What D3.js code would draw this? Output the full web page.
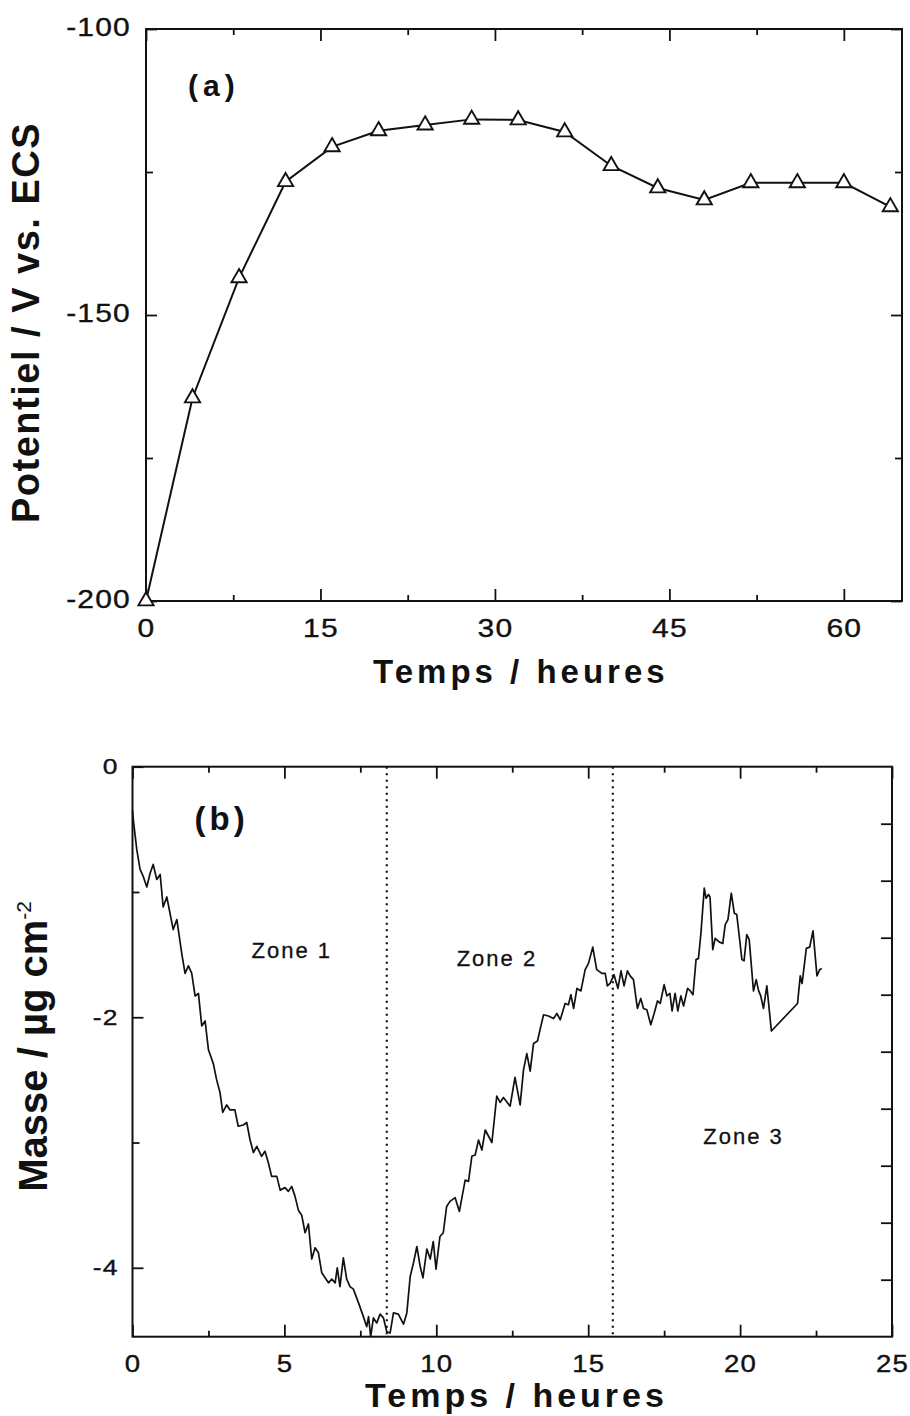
<!DOCTYPE html>
<html><head><meta charset="utf-8">
<script src="https://cdn.jsdelivr.net/npm/d3@7"></script>
<style>body{margin:0;background:#fff}</style>
</head><body><svg id="c" width="910" height="1416"></svg>
<script>
// ---------- Panel (a) : potential vs time ----------
const potentialTime = [0,4,8,12,16,20,24,28,32,36,40,44,48,52,56,60,64];
const potentialValues = [-200,-164.5,-143.5,-126.7,-120.6,-117.8,-116.8,-115.8,-115.9,-118.0,-123.9,-127.8,-129.9,-126.9,-126.9,-126.9,-131.1];
const potentialXTicks = [0,15,30,45,60];
const potentialXMinor = [7.5,22.5,37.5,52.5];
const potentialYTicks = [-200,-150,-100];
const potentialYMinor = [-175,-125];

// ---------- Panel (b) : mass vs time ----------
const massTime = [0.00,0.03,0.14,0.25,0.36,0.47,0.58,0.68,0.80,0.91,1.01,1.13,1.34,1.46,1.62,1.73,1.84,1.95,2.06,2.17,2.28,2.39,2.50,2.66,2.77,2.88,2.97,3.10,3.21,3.37,3.48,3.65,3.76,3.87,3.98,4.09,4.25,4.36,4.47,4.58,4.75,4.86,5.02,5.13,5.24,5.35,5.46,5.57,5.68,5.79,5.90,6.01,6.12,6.23,6.34,6.45,6.56,6.67,6.74,6.83,6.94,7.05,7.16,7.27,7.44,7.60,7.71,7.77,7.84,7.93,8.04,8.15,8.26,8.37,8.48,8.59,8.75,8.92,9.03,9.14,9.25,9.36,9.47,9.56,9.69,9.80,9.90,9.99,10.12,10.23,10.34,10.45,10.62,10.76,10.95,11.06,11.17,11.28,11.39,11.50,11.61,11.72,11.83,11.99,12.10,12.21,12.43,12.59,12.76,12.87,12.98,13.09,13.20,13.33,13.53,13.69,13.86,13.97,14.08,14.24,14.35,14.43,14.52,14.63,14.76,14.90,15.01,15.15,15.28,15.45,15.56,15.63,15.72,15.85,15.98,16.08,16.18,16.29,16.38,16.49,16.62,16.73,16.82,16.93,17.06,17.17,17.28,17.37,17.50,17.59,17.69,17.76,17.86,17.95,18.05,18.14,18.27,18.36,18.45,18.55,18.63,18.71,18.82,18.88,18.96,19.01,19.10,19.18,19.32,19.43,19.51,19.60,19.71,19.81,19.89,20.06,20.13,20.22,20.30,20.44,20.53,20.61,20.68,20.77,20.88,21.03,21.89,21.98,22.04,22.18,22.29,22.40,22.53,22.62,22.69];
const massValues = [-0.35,-0.43,-0.66,-0.82,-0.88,-0.96,-0.85,-0.78,-0.90,-0.86,-1.12,-1.04,-1.30,-1.22,-1.49,-1.65,-1.59,-1.65,-1.83,-1.81,-2.07,-2.03,-2.26,-2.37,-2.50,-2.60,-2.76,-2.70,-2.74,-2.74,-2.87,-2.86,-2.84,-2.98,-3.08,-3.03,-3.11,-3.07,-3.16,-3.27,-3.27,-3.38,-3.36,-3.39,-3.35,-3.43,-3.54,-3.58,-3.72,-3.65,-3.93,-3.84,-3.88,-4.04,-4.08,-4.12,-4.09,-4.12,-4.00,-4.15,-3.92,-4.09,-4.15,-4.17,-4.28,-4.39,-4.47,-4.39,-4.55,-4.40,-4.44,-4.37,-4.40,-4.51,-4.52,-4.36,-4.37,-4.45,-4.36,-4.07,-3.96,-3.83,-3.99,-4.08,-3.85,-3.93,-3.79,-4.01,-3.75,-3.72,-3.51,-3.47,-3.44,-3.55,-3.30,-3.31,-3.11,-3.10,-2.98,-3.06,-2.90,-2.95,-3.00,-2.63,-2.68,-2.64,-2.71,-2.48,-2.70,-2.42,-2.29,-2.43,-2.21,-2.19,-1.98,-1.99,-2.01,-1.97,-2.02,-1.89,-1.90,-1.82,-1.93,-1.77,-1.79,-1.62,-1.57,-1.44,-1.62,-1.65,-1.65,-1.75,-1.73,-1.66,-1.77,-1.63,-1.75,-1.63,-1.67,-1.70,-1.93,-1.85,-1.93,-1.94,-2.06,-1.97,-1.87,-1.89,-1.74,-1.83,-1.81,-1.95,-1.81,-1.95,-1.83,-1.91,-1.77,-1.79,-1.82,-1.54,-1.53,-1.33,-0.97,-1.05,-1.02,-1.04,-1.46,-1.37,-1.40,-1.41,-1.26,-1.22,-1.01,-1.17,-1.18,-1.54,-1.55,-1.34,-1.38,-1.79,-1.70,-1.79,-1.83,-1.93,-1.75,-2.11,-1.89,-1.67,-1.73,-1.45,-1.44,-1.31,-1.67,-1.62,-1.61];
const massXTicks = [0,5,10,15,20,25];
const massXMinor = [2.5,7.5,12.5,17.5,22.5];
const massYTicks = [-4,-2,0];
const massYMinor = [-3,-1];
const zoneBoundaries = [8.37, 15.81];
const zoneNames = ["Zone 1","Zone 2","Zone 3"];
const zoneLabelTime = [3.92, 10.67, 18.79];
const zoneLabelMass = [-1.53, -1.59, -3.01];

// ---------- drawing ----------
const FONT = '"Liberation Sans", Arial, Helvetica, sans-serif';
const INK = "#111";
const STRETCH = 1.2;
const svg = d3.select("#c");
svg.append("rect").attr("width",910).attr("height",1416).attr("fill","#fff");
const fmt = d => String(d);

function addAxis(g, axis, tx, ty) {
  const a = g.append("g").attr("transform", `translate(${tx},${ty})`).call(axis);
  a.select(".domain").remove();
  a.selectAll("line").attr("stroke", INK).attr("stroke-width", 1.8);
  a.attr("font-family", FONT);
  a.selectAll("text").attr("fill", INK).attr("stroke", INK).attr("stroke-width", 0.35);
  return a;
}

function frame(g, x, y, cfg) {
  const [x0, x1] = x.range();
  const [y0, y1] = y.range(); // bottom, top
  const b = addAxis(g, d3.axisBottom(x).tickValues(cfg.xMajor).tickSize(-12).tickPadding(cfg.xPad).tickFormat(fmt), 0, y0);
  b.attr("font-size", cfg.xFont);
  b.selectAll("text").attr("letter-spacing", cfg.ls).attr("transform", `scale(${STRETCH},1)`);
  addAxis(g, d3.axisBottom(x).tickValues(cfg.xMinor).tickSize(-6).tickFormat(""), 0, y0);
  addAxis(g, d3.axisTop(x).tickValues(cfg.xMajor).tickSize(-12).tickFormat(""), 0, y1);
  addAxis(g, d3.axisTop(x).tickValues(cfg.xMinor).tickSize(-6).tickFormat(""), 0, y1);
  const l = addAxis(g, d3.axisLeft(y).tickValues(cfg.yMajor).tickSize(-11).tickPadding(cfg.yPad).tickFormat(fmt), x0, 0);
  l.attr("font-size", cfg.yFont);
  l.selectAll("text").attr("letter-spacing", cfg.ls).attr("dy", cfg.yDy)
    .attr("x", -cfg.yPad / STRETCH).attr("transform", `scale(${STRETCH},1)`);
  addAxis(g, d3.axisLeft(y).tickValues(cfg.yMinor).tickSize(-7).tickFormat(""), x0, 0);
  if (cfg.rightScale) {
    addAxis(g, d3.axisRight(cfg.rightScale).tickValues(d3.range(1, 10)).tickSize(-11).tickFormat(""), x1, 0);
  } else {
    addAxis(g, d3.axisRight(y).tickValues(cfg.yMajor).tickSize(-11).tickFormat(""), x1, 0);
    addAxis(g, d3.axisRight(y).tickValues(cfg.yMinor).tickSize(-7).tickFormat(""), x1, 0);
  }
  g.append("rect").attr("x", x0).attr("y", y1).attr("width", x1 - x0).attr("height", y0 - y1)
    .attr("fill", "none").attr("stroke", INK).attr("stroke-width", 2);
}

// Panel (a)
const gA = svg.append("g");
const xA = d3.scaleLinear().domain([0, 65]).range([146, 902]);
const yA = d3.scaleLinear().domain([-200, -100]).range([601, 29]);
frame(gA, xA, yA, {xMajor: potentialXTicks, xMinor: potentialXMinor, yMajor: potentialYTicks, yMinor: potentialYMinor,
  xPad: 18, yPad: 15, xFont: 25, yFont: 25, ls: 1, yDy: "0.25em"});
const ptsA = potentialTime.map((t, i) => [t, potentialValues[i]]);
gA.append("path").datum(ptsA)
  .attr("d", d3.line().x(d => xA(d[0])).y(d => yA(d[1])))
  .attr("fill", "none").attr("stroke", INK).attr("stroke-width", 2);
gA.selectAll("path.tri").data(ptsA).join("path").attr("class", "tri")
  .attr("d", d3.symbol(d3.symbolTriangle, 100))
  .attr("transform", d => `translate(${xA(d[0])},${yA(d[1])})`)
  .attr("fill", "#fff").attr("stroke", INK).attr("stroke-width", 1.9);
gA.append("text").text("(a)").attr("x", xA.range()[0] + 42).attr("y", yA.range()[1] + 67)
  .attr("font-family", FONT).attr("font-weight", "bold").attr("font-size", 30).attr("letter-spacing", 5).attr("fill", INK);
gA.append("text").text("Temps / heures").attr("x", 373).attr("y", 683)
  .attr("font-family", FONT).attr("font-weight", "bold").attr("font-size", 33).attr("letter-spacing", 4).attr("fill", INK);
gA.append("text").text("Potentiel / V vs. ECS").attr("transform", "translate(38.5,523) rotate(-90)")
  .attr("font-family", FONT).attr("font-weight", "bold").attr("font-size", 38).attr("letter-spacing", 1.5).attr("fill", INK);

// Panel (b)
const gB = svg.append("g");
const xB = d3.scaleLinear().domain([0, 25]).range([132.5, 892]);
const yB = d3.scaleLinear().domain([-4.55, 0]).range([1336.7, 766.7]);
const yBRight = d3.scaleLinear().domain([0, 10]).range(yB.range());
frame(gB, xB, yB, {xMajor: massXTicks, xMinor: massXMinor, yMajor: massYTicks, yMinor: massYMinor,
  xPad: 18.5, yPad: 14, xFont: 23, yFont: 22, ls: 1, yDy: "0.32em", rightScale: yBRight});
// zone boundaries
gB.selectAll("line.zone").data(zoneBoundaries).join("line").attr("class", "zone")
  .attr("x1", d => xB(d)).attr("x2", d => xB(d))
  .attr("y1", yB(0)).attr("y2", yB(-4.55))
  .attr("stroke", INK).attr("stroke-width", 2.2).attr("stroke-dasharray", "2,4.5");
const ptsB = massTime.map((t, i) => [t, massValues[i]]);
gB.append("path").datum(ptsB)
  .attr("d", d3.line().x(d => xB(d[0])).y(d => yB(d[1])))
  .attr("fill", "none").attr("stroke", INK).attr("stroke-width", 1.7).attr("stroke-linejoin", "round");
gB.selectAll("text.zl").data(zoneNames).join("text").attr("class", "zl")
  .text(d => d).attr("x", (d, i) => xB(zoneLabelTime[i])).attr("y", (d, i) => yB(zoneLabelMass[i]))
  .attr("font-family", FONT).attr("font-size", 22).attr("letter-spacing", 2).attr("fill", INK)
  .attr("stroke", INK).attr("stroke-width", 0.3);
gB.append("text").text("(b)").attr("x", xB.range()[0] + 62).attr("y", yB.range()[1] + 63)
  .attr("font-family", FONT).attr("font-weight", "bold").attr("font-size", 33).attr("letter-spacing", 4).attr("fill", INK);
gB.append("text").text("Temps / heures").attr("x", 365).attr("y", 1406.7)
  .attr("font-family", FONT).attr("font-weight", "bold").attr("font-size", 34).attr("letter-spacing", 4).attr("fill", INK);
const yt = gB.append("text").attr("transform", "translate(47,1191.7) rotate(-90)")
  .attr("font-family", FONT).attr("font-weight", "bold").attr("font-size", 40).attr("fill", INK);
yt.append("tspan").text("Masse / µg cm");
yt.append("tspan").text("-2").attr("dy", -16).attr("font-size", 21).attr("font-weight", "normal");
</script>
</body></html>
